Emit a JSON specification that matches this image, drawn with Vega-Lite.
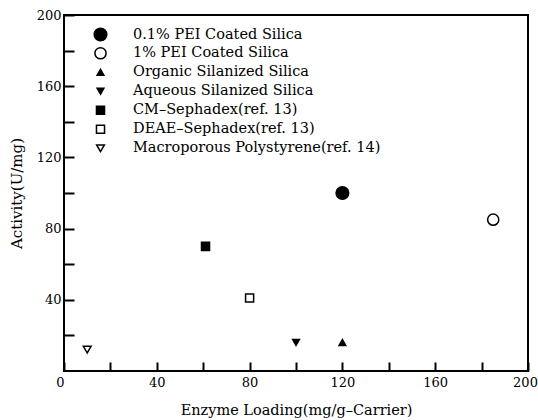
{
  "$schema": "https://vega.github.io/schema/vega-lite/v6.json",
  "width": 464,
  "height": 356,
  "autosize": "none",
  "padding": {"left": 64, "top": 15, "right": 10, "bottom": 49},
  "background": "white",
  "config": {
    "font": "DejaVu Serif",
    "view": {"stroke": "black", "strokeWidth": 2},
    "legend": {"labelFont": "DejaVu Serif", "labelFontSize": 14.5, "labelColor": "black"},
    "axis": {
      "grid": false,
      "domain": false,
      "tickColor": "black",
      "tickWidth": 2,
      "labelColor": "black",
      "labelFont": "DejaVu Serif",
      "labelFontSize": 13,
      "titleFont": "DejaVu Serif",
      "titleFontWeight": "normal",
      "titleColor": "black"
    }
  },
  "data": {
    "values": [
      {"x": 120, "y": 100, "s": "0.1% PEI Coated Silica"},
      {"x": 185, "y": 85, "s": "1% PEI Coated Silica"},
      {"x": 120, "y": 16, "s": "Organic Silanized Silica"},
      {"x": 100, "y": 16, "s": "Aqueous Silanized Silica"},
      {"x": 61, "y": 70, "s": "CM–Sephadex(ref. 13)"},
      {"x": 80, "y": 41, "s": "DEAE–Sephadex(ref. 13)"},
      {"x": 10, "y": 12, "s": "Macroporous Polystyrene(ref. 14)"}
    ]
  },
  "mark": {"type": "point", "filled": true, "stroke": "black", "strokeWidth": 1.5, "opacity": 1},
  "encoding": {
    "x": {
      "field": "x", "type": "quantitative",
      "scale": {"domain": [0, 200], "nice": false, "zero": true},
      "title": "Enzyme Loading(mg/g–Carrier)",
      "axis": {
        "values": [0, 20, 40, 60, 80, 100, 120, 140, 160, 180, 200],
        "labelExpr": "datum.value % 40 == 0 ? datum.label : ''",
        "labelAlign": {"condition": {"test": "datum.value == 0", "value": "right"}, "value": "center"},
        "labelOffset": {"condition": {"test": "datum.value == 200", "value": -3}, "value": 0},
        "tickSize": -9,
        "labelPadding": 14,
        "titleFontSize": 14.5,
        "titlePadding": 14
      }
    },
    "y": {
      "field": "y", "type": "quantitative",
      "scale": {"domain": [0, 200], "nice": false},
      "title": "Activity(U/mg)",
      "axis": {
        "values": [20, 40, 60, 80, 100, 120, 140, 160, 180, 200],
        "labelExpr": "datum.value % 40 == 0 ? datum.label : ''",
        "tickSize": -10,
        "labelPadding": 13,
        "titleFontSize": 15,
        "titlePadding": 12
      }
    },
    "shape": {
      "field": "s", "type": "nominal",
      "scale": {
        "domain": ["0.1% PEI Coated Silica", "1% PEI Coated Silica", "Organic Silanized Silica", "Aqueous Silanized Silica", "CM–Sephadex(ref. 13)", "DEAE–Sephadex(ref. 13)", "Macroporous Polystyrene(ref. 14)"],
        "range": ["circle", "circle", "triangle-up", "triangle-down", "square", "square", "triangle-down"]
      },
      "legend": {
        "title": null,
        "orient": "none",
        "legendX": 29,
        "legendY": 12,
        "padding": 0,
        "gridAlign": "all",
        "labelFont": "DejaVu Serif",
        "labelFontSize": 14.5,
        "labelColor": "black",
        "labelLimit": 400,
        "labelOffset": 25,
        "rowPadding": 0,
        "symbolStrokeColor": "black",
        "symbolStrokeWidth": 1.5
      }
    },
    "fill": {
      "field": "s", "type": "nominal",
      "scale": {
        "domain": ["0.1% PEI Coated Silica", "1% PEI Coated Silica", "Organic Silanized Silica", "Aqueous Silanized Silica", "CM–Sephadex(ref. 13)", "DEAE–Sephadex(ref. 13)", "Macroporous Polystyrene(ref. 14)"],
        "range": ["black", "white", "black", "black", "black", "white", "white"]
      }
    },
    "size": {
      "field": "s", "type": "nominal",
      "scale": {
        "type": "ordinal",
        "domain": ["0.1% PEI Coated Silica", "1% PEI Coated Silica", "Organic Silanized Silica", "Aqueous Silanized Silica", "CM–Sephadex(ref. 13)", "DEAE–Sephadex(ref. 13)", "Macroporous Polystyrene(ref. 14)"],
        "range": [160, 125, 45, 45, 65, 65, 60]
      }
    }
  }
}
